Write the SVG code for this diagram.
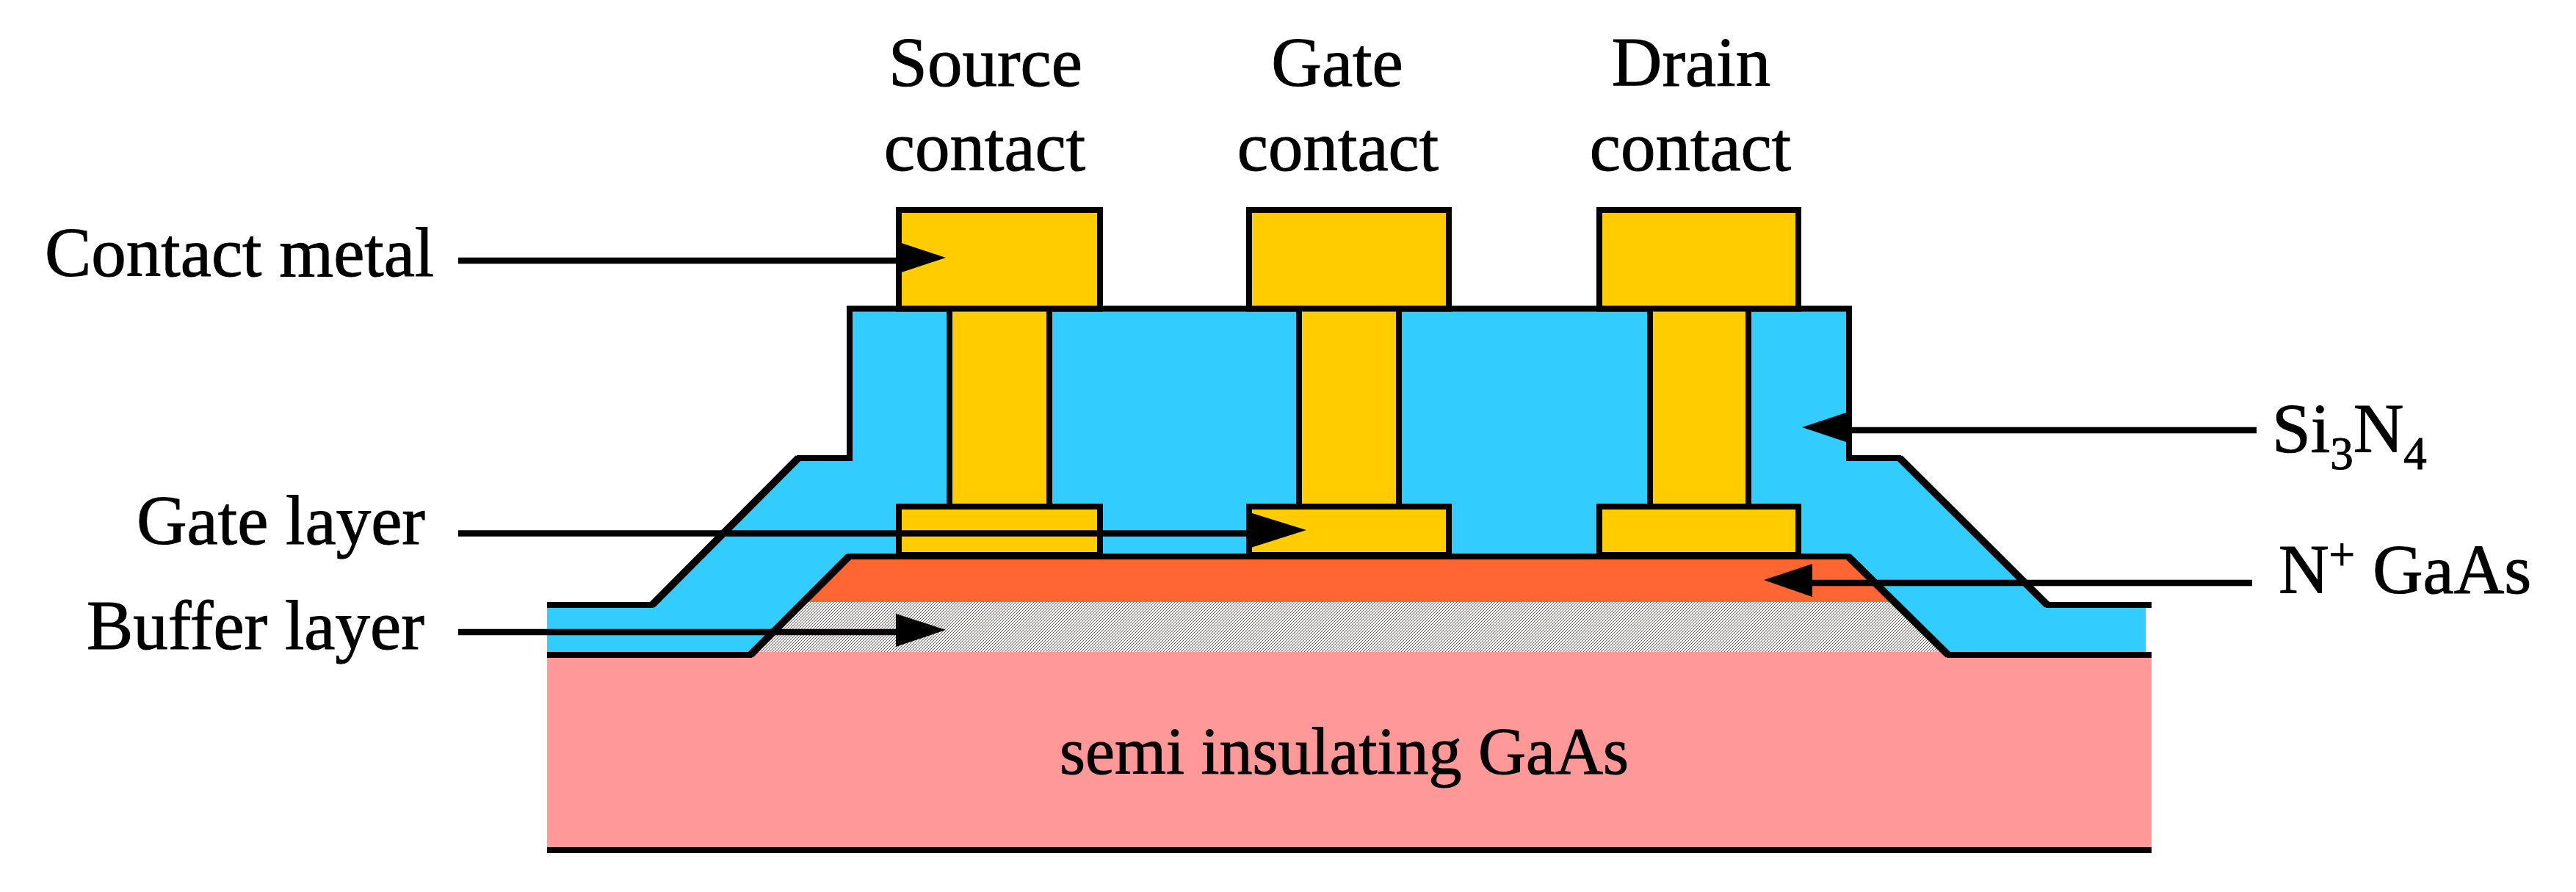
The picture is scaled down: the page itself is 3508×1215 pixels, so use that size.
<svg xmlns="http://www.w3.org/2000/svg" width="3508" height="1215" viewBox="0 0 3508 1215">
<style>
text{font-family:"Liberation Serif","Times New Roman",serif;font-size:95px;fill:#000;stroke:#000;stroke-width:1}
.sub{font-size:63px}
.m{text-anchor:middle}
.big{font-size:90px}
.metal{fill:#FFCC00;stroke:#000;stroke-width:8}
.edge{fill:none;stroke:#000;stroke-width:8}
.slope{fill:none;stroke:#000;stroke-width:10}
.lead{stroke:#000;stroke-width:8.5;fill:none}
.head{fill:#000}
</style>
<defs>
<pattern id="dither" width="4" height="4" patternUnits="userSpaceOnUse" shape-rendering="crispEdges">
<rect width="4" height="4" fill="#fff"/>
<path d="M3 0h1v1h-1zM2 1h1v1h-1zM1 2h1v1h-1zM0 3h1v1h-1z" fill="#A82838"/>
</pattern>
</defs>
<rect width="3508" height="1215" fill="#fff"/>
<g id="substrate">
<rect x="745" y="888" width="2185" height="270" fill="#FF9999"/>
<path class="edge" d="M745 1158H2930"/>
<text class="big" x="1443" y="1054">semi insulating GaAs</text>
</g>
<g id="buffer-layer"><polygon points="1094,820 2579,820 2647,888 1026,888" fill="url(#dither)"/></g>
<g id="nplus-layer"><polygon points="1156,758 2517,758 2579,820 1094,820" fill="#FF6633"/></g>
<g id="nitride">
<polygon points="745,824 888,824 1087,624 1157,624 1157,420 2518,420 2518,624 2587,624 2788,824 2922,824 2922,892 2653,892 2517,758 1156,758 1022,892 745,892" fill="#33CCFF"/>
<path class="edge" d="M745 824H888L1087 624H1157V420.5H2518V624H2587L2788 824H2930"/>
<path class="edge" d="M745 892H1022L1156 758H2517L2653 892H2930"/>
<path class="slope" d="M888 824L1087 624M2587 624L2788 824M1022 892L1156 758M2517 758L2653 892"/>
</g>
<g id="source">
<rect class="metal" x="1293" y="420" width="136" height="270"/>
<rect class="metal" x="1224" y="286" width="274" height="134.5"/>
<rect class="metal" x="1224" y="690" width="274" height="66"/>
<text class="m" x="1342" y="117">Source</text>
<text class="m" x="1341" y="232">contact</text>
</g>
<g id="gate">
<rect class="metal" x="1769" y="420" width="136" height="270"/>
<rect class="metal" x="1701" y="286" width="272" height="134.5"/>
<rect class="metal" x="1701" y="690" width="272" height="66"/>
<text class="m" x="1821" y="117">Gate</text>
<text class="m" x="1822" y="232">contact</text>
</g>
<g id="drain">
<rect class="metal" x="2247" y="420" width="134" height="270"/>
<rect class="metal" x="2178" y="286" width="271" height="134.5"/>
<rect class="metal" x="2178" y="690" width="271" height="66"/>
<text class="m" x="2303" y="117">Drain</text>
<text class="m" x="2302" y="232">contact</text>
</g>
<g id="labels">
<text x="61" y="376">Contact metal</text>
<text x="186" y="741">Gate layer</text>
<text x="118" y="884">Buffer layer</text>
<text x="3094" y="616">Si<tspan class="sub" dy="23">3</tspan><tspan dy="-23">N</tspan><tspan class="sub" dy="23">4</tspan></text>
<text x="3103" y="808">N<tspan class="sub" dy="-31">+</tspan><tspan dy="31"> GaAs</tspan></text>
</g>
<g id="connectors">
<path class="lead" d="M624 355H1224"/><polygon class="head" points="1220,328.5 1288,351 1220,373.5"/>
<path class="lead" d="M624 726.5H1705"/><polygon class="head" points="1705,699 1779,722 1705,745.5"/>
<path class="lead" d="M624 861H1224"/><polygon class="head" points="1220,836 1288,858 1220,881"/>
<path class="lead" d="M3073 586H2516"/><polygon class="head" points="2454,582 2520,560 2520,604"/>
<path class="lead" d="M3067 794H2464"/><polygon class="head" points="2402,790 2468,768 2468,813"/>
</g>
</svg>
